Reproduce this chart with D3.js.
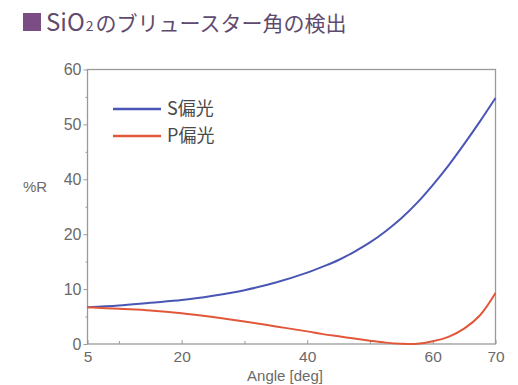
<!DOCTYPE html>
<html>
<head>
<meta charset="utf-8">
<script src="https://cdn.jsdelivr.net/npm/d3@7"></script>
<style>
  html, body { margin: 0; padding: 0; background: #ffffff; }
  svg { display: block; }
</style>
</head>
<body>
<svg id="chart" width="518" height="385"></svg>
<script>
// Reflectance of an SiO2 plate vs. angle of incidence, S and P polarisation
const angles = [5, 10, 15, 20, 25, 30, 35, 40, 42.5, 45, 47.5, 50, 52.5, 55, 57.5, 60, 62.5, 65, 67.5, 70];
const sValues = [6.7, 7.0, 7.5, 8.0, 8.8, 9.8, 11.2, 13.0, 14.1, 15.3, 16.8, 18.5, 21.1, 25.8, 31.4, 37.9, 42.5, 46.4, 50.5, 54.8];
const pValues = [6.7, 6.4, 6.1, 5.6, 4.9, 4.1, 3.2, 2.3, 1.8, 1.4, 1.0, 0.6, 0.25, 0.05, 0.04, 0.5, 1.3, 2.8, 5.2, 9.3];

const xTickLabels = [5, 20, 40, 60, 70];
const xMinorTicks = [10, 30, 50];
const yTickLabels = [0, 10, 20, 40, 50, 60];
const yMinorTicks = [5, 15, 30, 45, 55];

const seriesNames = ["S偏光", "P偏光"];
const seriesColors = ["#4a56b4", "#e2573a"];

const svg = d3.select("#chart");
const plotLeft = 87.5, plotRight = 495.5, plotTop = 69.5, plotBottom = 344;

const x = d3.scaleLinear().domain([5, 70]).range([plotLeft, plotRight]);
// axis labels are evenly spaced, so the scale is piecewise between them
const step = (plotBottom - plotTop) / (yTickLabels.length - 1);
const y = d3.scaleLinear()
  .domain(yTickLabels)
  .range(yTickLabels.map((_, i) => plotBottom - i * step));

// title
const title = svg.append("g");
title.append("rect").attr("x", 23).attr("y", 13).attr("width", 18).attr("height", 18).attr("fill", "#7a4d85");
const tt = title.append("text")
  .attr("x", 46).attr("y", 31)
  .attr("font-family", "'Noto Sans CJK JP', 'Noto Sans', sans-serif")
  .attr("fill", "#5f4b6e");
tt.append("tspan").attr("font-size", 24).text("SiO");
tt.append("tspan").attr("font-size", 14).attr("dx", 1).text("2");
tt.append("tspan").attr("font-size", 21).attr("dx", 2).text("のブリュースター角の検出");

const axisColor = "#9a9a9a";
const labelColor = "#6a6a6a";
const fontFam = "'Liberation Sans', Arial, sans-serif";

// frame
svg.append("rect")
  .attr("x", plotLeft).attr("y", plotTop)
  .attr("width", plotRight - plotLeft).attr("height", plotBottom - plotTop)
  .attr("fill", "none").attr("stroke", axisColor).attr("stroke-width", 1.3);

// x axis
const xAxis = svg.append("g").attr("transform", `translate(0,${plotBottom})`)
  .call(d3.axisBottom(x).tickValues(xTickLabels).tickSizeInner(-4).tickSizeOuter(0).tickPadding(7).tickFormat(d3.format("d")));
xAxis.select(".domain").remove();
xAxis.selectAll("line").attr("stroke", axisColor);
xAxis.selectAll("text").attr("font-family", fontFam).attr("font-size", 15.5).attr("fill", labelColor);
svg.append("g").attr("transform", `translate(0,${plotBottom})`)
  .call(d3.axisBottom(x).tickValues(xMinorTicks).tickSizeInner(-3).tickSizeOuter(0).tickFormat(""))
  .call(g => g.select(".domain").remove())
  .selectAll("line").attr("stroke", axisColor);

// y axis
const yAxis = svg.append("g").attr("transform", `translate(${plotLeft},0)`)
  .call(d3.axisLeft(y).tickValues(yTickLabels).tickSizeInner(4).tickSizeOuter(0).tickPadding(2).tickFormat(d3.format("d")));
yAxis.select(".domain").remove();
yAxis.selectAll("line").attr("stroke", axisColor);
yAxis.selectAll("text").attr("font-family", fontFam).attr("font-size", 16).attr("fill", labelColor);
svg.append("g").attr("transform", `translate(${plotLeft},0)`)
  .call(d3.axisLeft(y).tickValues(yMinorTicks).tickSizeInner(2).tickSizeOuter(0).tickFormat(""))
  .call(g => g.select(".domain").remove())
  .selectAll("line").attr("stroke", axisColor);

// axis titles
svg.append("text")
  .attr("x", 35).attr("y", 192)
  .attr("text-anchor", "middle")
  .attr("font-family", fontFam).attr("font-size", 15).attr("fill", labelColor)
  .text("%R");
svg.append("text")
  .attr("x", 285).attr("y", 381)
  .attr("text-anchor", "middle")
  .attr("font-family", fontFam).attr("font-size", 15).attr("fill", labelColor)
  .text("Angle [deg]");

// curves
const line = d3.line()
  .x(d => x(d[0]))
  .y(d => y(d[1]))
  .curve(d3.curveCatmullRom.alpha(0.5));

[sValues, pValues].forEach((vals, i) => {
  svg.append("path")
    .datum(angles.map((a, k) => [a, vals[k]]))
    .attr("d", line)
    .attr("fill", "none")
    .attr("stroke", seriesColors[i])
    .attr("stroke-width", 2);
});

// legend
const legend = svg.append("g");
seriesNames.forEach((name, i) => {
  const ly = 109 + i * 27;
  legend.append("line")
    .attr("x1", 113).attr("x2", 161).attr("y1", ly).attr("y2", ly)
    .attr("stroke", seriesColors[i]).attr("stroke-width", 2.5);
  legend.append("text")
    .attr("x", 167).attr("y", ly)
    .attr("dy", "0.36em")
    .attr("font-family", "'Noto Sans CJK JP', sans-serif")
    .attr("font-size", 18).attr("fill", "#4a4a4a")
    .text(name);
});
</script>
</body>
</html>
